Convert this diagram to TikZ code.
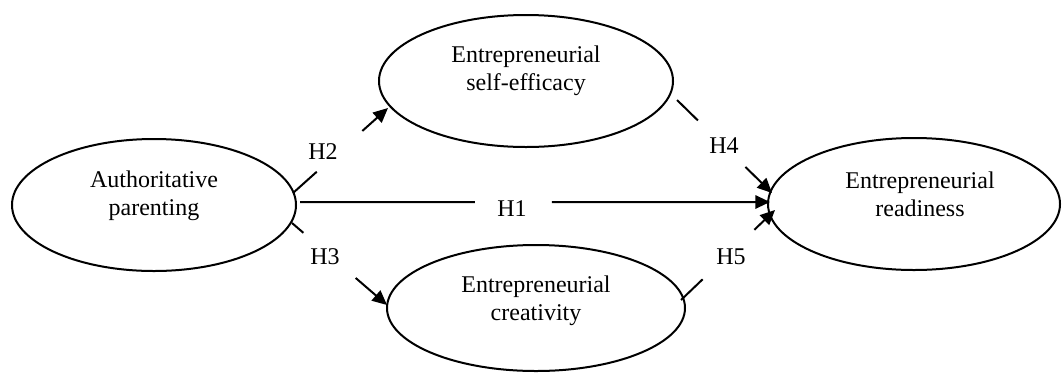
\documentclass[tikz,border=0pt]{standalone}
\usepackage{fontspec}
\setmainfont{Liberation Serif}
\usetikzlibrary{shapes.geometric,arrows.meta,calc}
\begin{document}
\begin{tikzpicture}[x=0.75pt,y=-0.75pt,
  construct/.style={draw, ellipse, line width=1.5pt, inner sep=0pt},
  caption/.style={align=center, font=\fontsize{18}{21}\selectfont},
  hyp/.style={font=\fontsize{18}{21}\selectfont, inner sep=0pt},
  link/.style={line width=1.5pt},
  tip/.style={-{Triangle[length=11pt,width=10pt]}}
]
\useasboundingbox (0,0) rectangle (1062,372);

% constructs
\node[construct, minimum width=213pt, minimum height=99pt] (ap) at (154,205) {};
\node[construct, minimum width=220.5pt, minimum height=99pt] (se) at (526,81) {};
\node[construct, minimum width=223.5pt, minimum height=94.5pt] (cr) at (536,308) {};
\node[construct, minimum width=219pt, minimum height=99pt] (rd) at (914,204) {};

\node[caption] (apt) at ($(ap.center)+(0,-9)$) {Authoritative\\parenting};
\node[caption] (set) at ($(se.center)+(0,-10)$) {Entrepreneurial\\self-efficacy};
\node[caption] (crt) at ($(cr.center)+(0,-7)$) {Entrepreneurial\\creativity};
\node[caption] (rdt) at ($(rd.center)+(6,-10)$) {Entrepreneurial\\readiness};

% end points of the paths on the ellipses
\coordinate (h1a) at (300,202); \coordinate (h1b) at (770,202);
\coordinate (h2a) at (293,193); \coordinate (h2b) at (388,108);
\coordinate (h3a) at (292,223); \coordinate (h3b) at (387,305);
\coordinate (h4a) at (677,100); \coordinate (h4b) at (772,193);
\coordinate (h5a) at (681,300); \coordinate (h5b) at (775,210);

% H1
\draw[link] (h1a) -- ($(h1a)!0.372!(h1b)$);
\draw[link,tip] ($(h1a)!0.536!(h1b)$) -- (h1b);
\node[hyp] (l1) at (512,209) {H1};
% H2
\draw[link] (h2a) -- ($(h2a)!0.25!(h2b)$);
\draw[link,tip] ($(h2a)!0.73!(h2b)$) -- (h2b);
\node[hyp] (l2) at (323,152) {H2};
% H3
\draw[link] (h3a) -- ($(h3a)!0.12!(h3b)$);
\draw[link,tip] ($(h3a)!0.67!(h3b)$) -- (h3b);
\node[hyp] (l3) at (325,257) {H3};
% H4
\draw[link] (h4a) -- ($(h4a)!0.22!(h4b)$);
\draw[link,tip] ($(h4a)!0.72!(h4b)$) -- (h4b);
\node[hyp] (l4) at (724,146) {H4};
% H5
\draw[link] (h5a) -- ($(h5a)!0.23!(h5b)$);
\draw[link,tip] ($(h5a)!0.78!(h5b)$) -- (h5b);
\node[hyp] (l5) at (731,257) {H5};
\end{tikzpicture}
\end{document}
